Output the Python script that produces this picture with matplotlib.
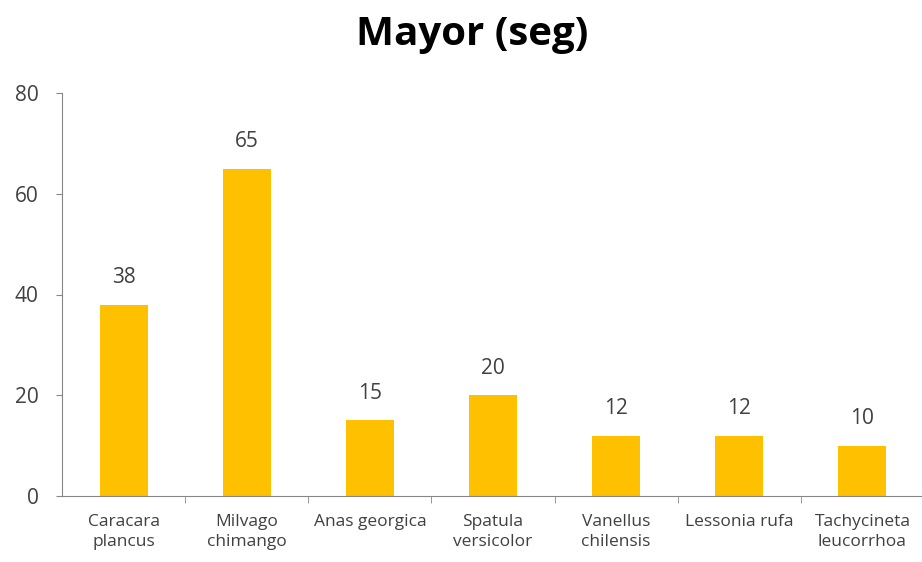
import matplotlib.pyplot as plt

# data
species = ['Caracara\nplancus', 'Milvago\nchimango', 'Anas georgica', 'Spatula\nversicolor',
           'Vanellus\nchilensis', 'Lessonia rufa', 'Tachycineta\nleucorrhoa']
seconds = [38, 65, 15, 20, 12, 12, 10]
yticks = [0, 20, 40, 60, 80]

plt.rcParams['font.family'] = ['Open Sans', 'DejaVu Sans']

fig = plt.figure(figsize=(9.22, 5.62), dpi=100)
ax = fig.add_axes([62 / 922, 66 / 562, 862 / 922, 403 / 562])

x = range(len(species))
bars = ax.bar(x, seconds, width=0.39, color='#FFC000')
ax.bar_label(bars, labels=[str(v) for v in seconds], padding=12, fontsize=15, color='#404040')

ax.set_ylim(0, 80)
ax.set_yticks(yticks)
ax.set_xlim(-0.5, len(species) - 0.5)
ax.set_xticks(x)
ax.set_xticklabels(species, fontsize=12.5, color='#404040', linespacing=1.3)
ax.set_xticks([i + 0.5 for i in range(len(species))], minor=True)
ax.tick_params(axis='x', which='major', length=0, pad=13)
ax.tick_params(axis='x', which='minor', length=5, color='#868686', direction='out')
ax.tick_params(axis='y', length=4, color='#868686', labelsize=15, labelcolor='#404040', pad=13)

for side in ['top', 'right']:
    ax.spines[side].set_visible(False)
for side in ['left', 'bottom']:
    ax.spines[side].set_color('#868686')

fig.text(472 / 922, 1 - 35 / 562, 'Mayor (seg)', ha='center', va='center',
         fontsize=29, fontweight='bold', color='black')

fig.savefig('out.png', dpi=100)
